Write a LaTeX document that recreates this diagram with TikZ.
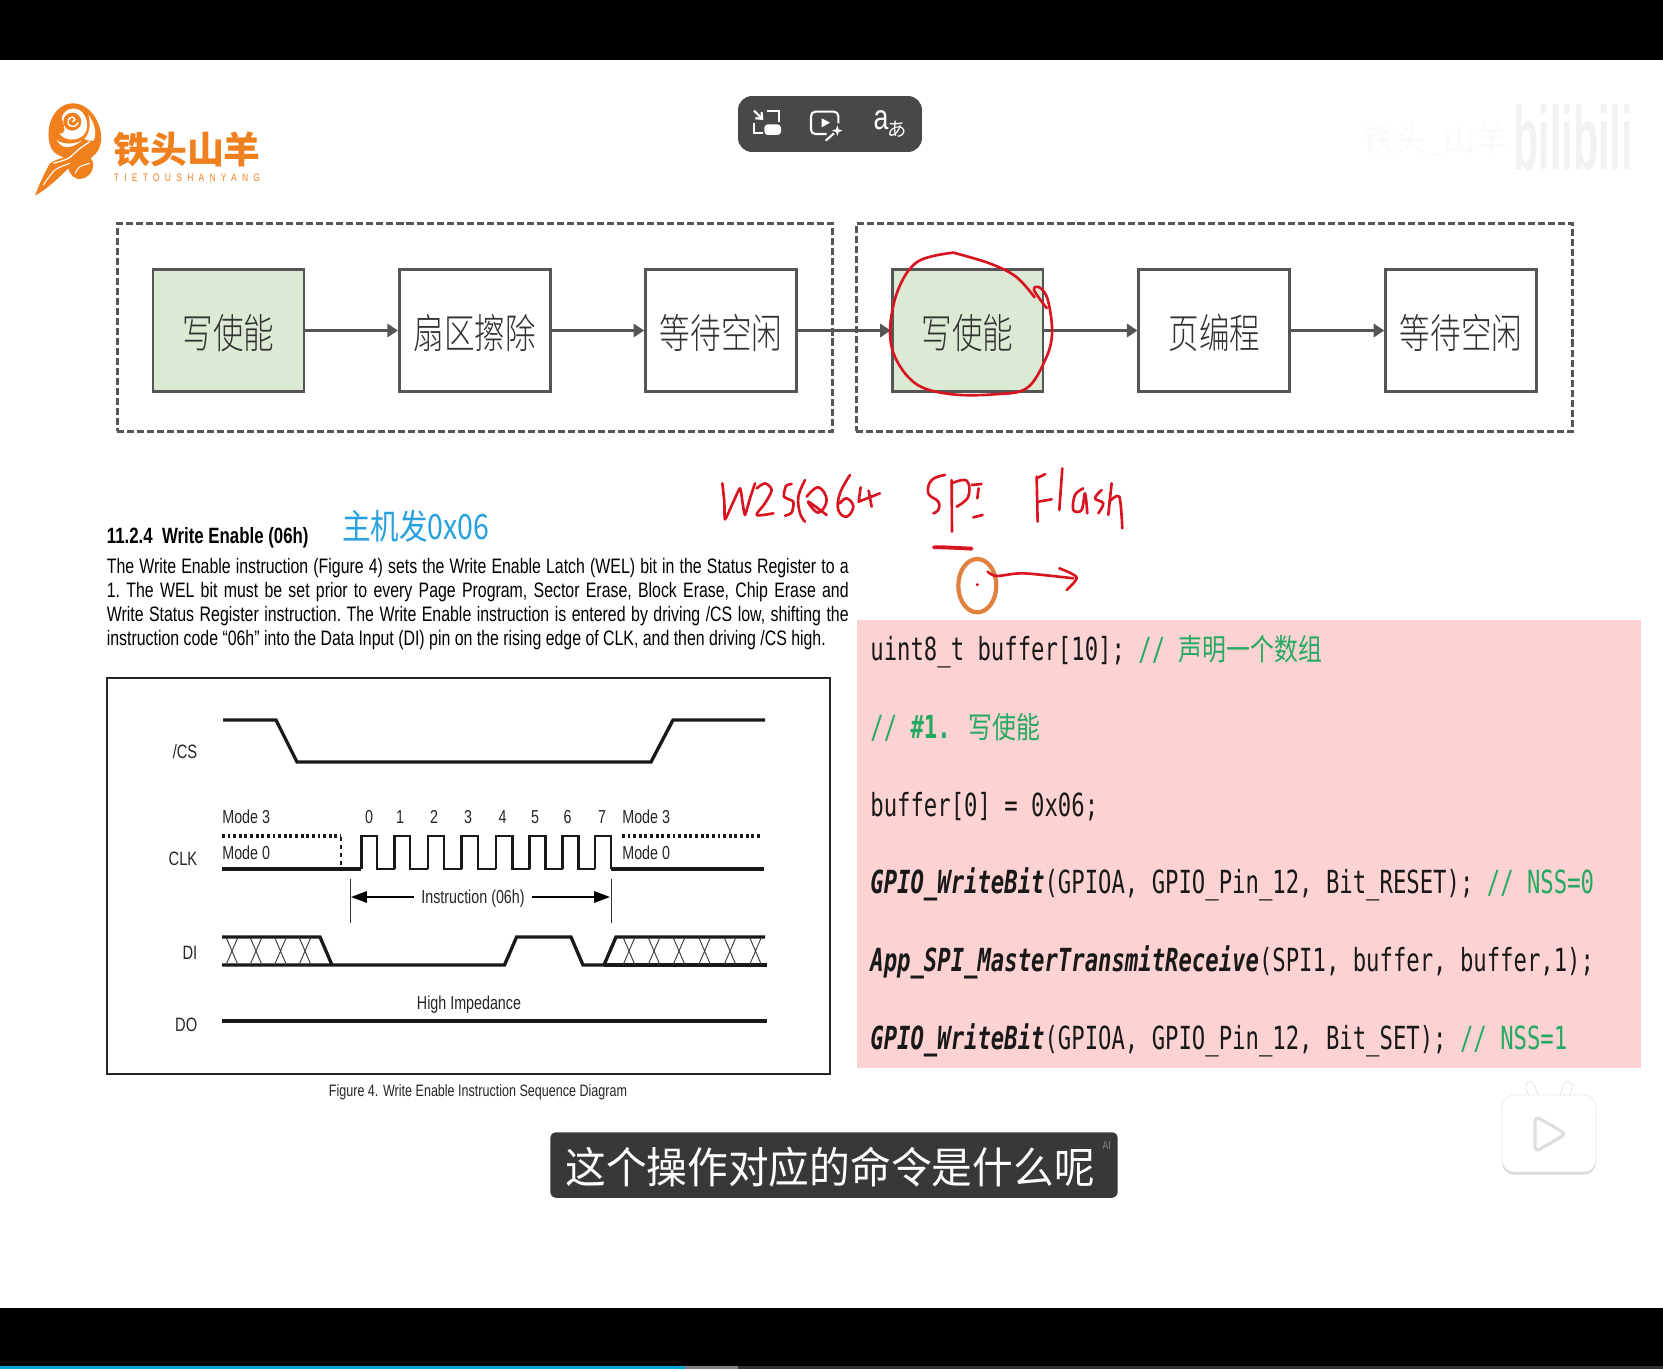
\documentclass[tikz,border=0pt]{standalone}
\usepackage{fontspec}
\usepackage{tikz}
\usetikzlibrary{
  arrows.meta,
  positioning, fit, calc,
  shadows
}
\newfontfamily\cjkbox[FakeStretch=0.75]{Noto Sans CJK SC Light}
\newfontfamily\cjkblue[FakeStretch=0.82]{Noto Sans CJK SC}
\newfontfamily\cjkcode[FakeStretch=0.8]{Noto Sans CJK SC}
\newfontfamily\cjksub[FakeStretch=0.95]{Noto Sans CJK SC}
\newfontfamily\cjklogo{Noto Sans CJK SC}
\newfontfamily\docfont[FakeStretch=0.76]{Liberation Sans}
\newfontfamily\logolatin[FakeStretch=0.78,LetterSpace=48]{Liberation Sans}
\newfontfamily\bilifont[FakeStretch=0.46]{Liberation Sans}
\newfontfamily\codefont[FakeStretch=0.70]{DejaVu Sans Mono}
\definecolor{framegray}{RGB}{85,85,85}
\definecolor{boxgreen}{RGB}{220,233,213}
\definecolor{boxtext}{RGB}{50,50,50}
\definecolor{inkred}{RGB}{216,20,32}
\definecolor{inkorange}{RGB}{226,128,64}
\definecolor{logoorange}{RGB}{240,128,30}
\definecolor{notecyan}{RGB}{38,160,222}
\definecolor{codepink}{RGB}{253,210,210}
\definecolor{codegreen}{RGB}{36,170,96}
\definecolor{codeink}{RGB}{25,25,25}
\definecolor{toolgray}{RGB}{72,72,72}
\definecolor{subgray}{RGB}{55,56,58}
\definecolor{progblue}{RGB}{0,161,214}
\tikzset{
  stepbox/.style={rectangle,draw=framegray,line width=1.6pt,minimum width=3.02cm,minimum height=2.44cm,inner sep=0pt,
    text height=0.82cm,text depth=0.1cm,font=\cjkbox\fontsize{23.2}{26}\selectfont,text=boxtext},
  greenbox/.style={stepbox,fill=boxgreen},
  plainbox/.style={stepbox,fill=white},
  groupbox/.style={rectangle,draw=framegray,line width=1.6pt,dash pattern=on 4pt off 1.7pt,inner xsep=0.69cm,inner ysep=0.83cm,yshift=0.06cm},
  arr/.style={->,>={Triangle[length=6pt,width=7.5pt]},line width=1.7pt,color=framegray},
  docline/.style={inner sep=0pt,anchor=base west,text=black},
  tlabel/.style={inner sep=0pt,font=\docfont\fontsize{10.7}{12}\selectfont,text=black!85},
  namelabel/.style={tlabel,anchor=east,font=\docfont\fontsize{11}{13}\selectfont},
  sigline/.style={line width=1.9pt,color=black!90,line join=miter},
  clkline/.style={line width=1.6pt,color=black!90,line join=miter},
  dotline/.style={line width=2pt,dash pattern=on 1.6pt off 1.6pt,color=black!90},
  dimline/.style={line width=0.5pt,color=black!80},
  dimarr/.style={->,>={Triangle[length=9pt,width=6.5pt]},line width=0.8pt,color=black},
  codeline/.style={inner sep=0pt,anchor=base west,text=codeink,font=\codefont\fontsize{18.1}{22}\selectfont},
  handink/.style={color=inkred,line width=1.5pt,line cap=round,line join=round}
}
\newcommand{\fn}[1]{\textbf{\textit{#1}}}
\newcommand{\cmt}[1]{\textcolor{codegreen}{#1}}

\begin{document}
\begin{tikzpicture}[x=0.02cm,y=-0.02cm]
  \useasboundingbox (0,0) rectangle (1663,1369);
  \fill[white] (0,0) rectangle (1663,1369);
  \fill[black] (0,0) rectangle (1663,60);
  \fill[black] (0,1308) rectangle (1663,1369);
  \fill[black!80] (0,1366) rectangle (1663,1369);
  \fill[black!50] (0,1366) rectangle (738,1369);
  \fill[progblue] (0,1366) rectangle (685,1369);

  \begin{scope}[shift={(25,95)},scale=0.3333]
    \fill[logoorange] (75,150) .. controls (58,90) and (90,25) .. (145,25) .. controls (200,25) and (240,100) .. (226,150)
      .. controls (220,175) and (205,180) .. (197,190) .. controls (212,205) and (205,240) .. (175,250)
      .. controls (150,258) and (135,240) .. (130,220) .. controls (110,240) and (70,280) .. (30,302)
      .. controls (42,270) and (55,240) .. (75,205) .. controls (90,195) and (105,190) .. (118,188)
      .. controls (95,180) and (80,170) .. (75,150) -- cycle;
    \fill[white] (110,70) .. controls (115,42) and (150,30) .. (172,52) .. controls (195,80) and (190,115) .. (165,128)
      .. controls (145,138) and (115,135) .. (103,115) .. controls (118,120) and (125,105) .. (110,70) -- cycle;
    \fill[logoorange] (142,80) circle [radius=27];
    \draw[white,line width=0.8pt] plot[smooth] coordinates {(142,80) (150,74) (142,66) (130,74) (132,90) (148,94) (160,82)};
    \fill[white] (190,58) .. controls (208,85) and (218,115) .. (205,137) .. controls (195,140) and (185,135) .. (178,132) .. controls (195,115) and (198,85) .. (190,58) -- cycle;
    \fill[white] (95,135) .. controls (110,162) and (135,165) .. (172,136) .. controls (150,148) and (115,150) .. (95,135) -- cycle;
    \draw[white,line width=0.7pt] plot[smooth] coordinates {(85,205) (130,190) (165,160) (195,140)};
    \draw[white,line width=0.6pt] plot[smooth] coordinates {(55,270) (90,225) (135,205)};
    \draw[white,line width=0.6pt] plot[smooth] coordinates {(150,235) (165,215) (195,205)};
  \end{scope}
  \node[inner sep=0pt,font=\cjklogo\bfseries\fontsize{21}{24}\selectfont,text=logoorange] (logotext) at (187,150) {铁头山羊};
  \node[inner sep=0pt,font=\logolatin\fontsize{6.2}{8}\selectfont,text=logoorange,below=3pt of logotext] (logosub) {TIETOUSHANYANG};

  \node[rectangle,rounded corners=8pt,fill=toolgray,minimum width=3.68cm,minimum height=1.12cm] (toolbar) at (830,124) {};
  \begin{scope}[shift={(730,90)},scale=0.3333,white,line width=1.2pt]
    \draw (110,62) -- (148,62) -- (148,95);
    \draw (72,100) -- (72,128) -- (100,128);
    \draw[->,>={Straight Barb[length=3pt,width=5pt]}] (72,62) -- (100,90);
    \fill[rounded corners=2pt] (103,103) rectangle (153,135);
    \draw[rounded corners=2.5pt] (290,132) -- (243,132) -- (243,65) -- (325,65) -- (325,100);
    \fill (275,85) -- (300,98) -- (275,112) -- cycle;
    \draw (287,152) -- (312,130);
    \fill (322,106) -- (326,118) -- (338,122) -- (326,126) -- (322,138) -- (318,126) -- (306,122) -- (318,118) -- cycle;
  \end{scope}
  \node[inner sep=0pt,text=white,font=\docfont\fontsize{20}{22}\selectfont] (langa) at (881,120) {a};
  \node[inner sep=0pt,text=white,font=\cjklogo\fontsize{11}{12}\selectfont] (langb) at (897,129) {あ};

  \node[inner sep=0pt,text=black!5,font=\bilifont\bfseries\fontsize{51}{56}\selectfont] (bililogo) at (1573,137) {bilibili};
  \node[inner sep=0pt,text=black!2,font=\cjklogo\fontsize{18}{20}\selectfont] (upname) at (1435,140) {铁头\_山羊};

  \node[greenbox] (wen1) at (228.5,330.5) {写使能};
  \node[plainbox,right=1.85cm of wen1] (erase) {扇区擦除};
  \node[plainbox,right=1.85cm of erase] (wait1) {等待空闲};
  \node[greenbox,right=1.856cm of wait1] (wen2) {写使能};
  \node[plainbox,right=1.86cm of wen2] (prog) {页编程};
  \node[plainbox,right=1.86cm of prog] (wait2) {等待空闲};
  \node[groupbox,fit=(wen1)(erase)(wait1)] (group1) {};
  \node[groupbox,fit=(wen2)(prog)(wait2)] (group2) {};

  \draw[arr] (wen1) -- (erase);
  \draw[arr] (erase) -- (wait1);
  \draw[arr] (wait1) -- (wen2);
  \draw[arr] (wen2) -- (prog);
  \draw[arr] (prog) -- (wait2);

  \begin{scope}[shift={(830,60)},xscale=0.5313,yscale=0.3333]
    \draw[handink] plot[smooth,tension=0.6] coordinates {(232,578) (165,605) (128,690) (113,810) (125,900) (165,975) (230,1003) (310,1003) (370,985) (405,900) (418,820) (410,720) (395,683) (384,690) (408,745)};
    \draw[handink] plot[smooth,tension=0.6] coordinates {(385,712) (350,650) (300,610) (232,578)};
  \end{scope}

  \node[docline,font=\docfont\bfseries\fontsize{12.6}{14}\selectfont] (sechead) at (106.5,543.5) {11.2.4\ \ Write Enable (06h)};
  \node[inner sep=0pt,anchor=base west,text=notecyan,font=\cjkblue\fontsize{19.8}{22}\selectfont] (hostnote) at (342,539) {主机发0x06};
  \node[inner sep=0pt,anchor=north west,text width=14.84cm,align=justify,font=\docfont\fontsize{11.9}{13.8}\selectfont] (secbody) at (106.5,557.5)
    {\frenchspacing The Write Enable instruction (Figure 4) sets the Write Enable Latch (WEL) bit in the Status Register to a\linebreak
     1. The WEL bit must be set prior to every Page Program, Sector Erase, Block Erase, Chip Erase and\linebreak
     Write Status Register instruction. The Write Enable instruction is entered by driving /CS low, shifting the\linebreak
     instruction code “06h” into the Data Input (DI) pin on the rising edge of CLK, and then driving /CS high.};

  \node[rectangle,draw=black!85,line width=1pt,minimum width=14.45cm,minimum height=7.92cm] (tframe) at (468.5,876) {};
  \node[namelabel] (lblcs) at (197.6,752) {/CS};
  \node[namelabel] (lblclk) at (197.6,859) {CLK};
  \node[namelabel] (lbldi) at (197.6,953) {DI};
  \node[namelabel] (lbldo) at (197.6,1025) {DO};

  \draw[sigline] (223,720) -- (276,720) -- (297,762) -- (651,762) -- (673,720) -- (765,720);

  \node[tlabel,anchor=west] (m3a) at (222,817) {Mode 3};
  \node[tlabel,anchor=west] (m0a) at (222,853) {Mode 0};
  \node[tlabel,anchor=west] (m3b) at (622,817) {Mode 3};
  \node[tlabel,anchor=west] (m0b) at (622,853) {Mode 0};
  \foreach \n/\x in {0/369,1/400,2/434,3/468,4/502.5,5/535,6/567.5,7/602}
    \node[tlabel] (bit\n) at (\x,817) {\n};
  \draw[dotline] (222,836) -- (341,836);
  \draw[dotline] (622,836) -- (761,836);
  \draw[line width=1.3pt,dash pattern=on 2.5pt off 2pt,color=black!90] (341,837) -- (341,868);
  \draw[sigline] (222,869) -- (361.4,869);
  \foreach \r/\f/\nx in {361.4/377/394.5,394.5/410/428,428/444/461.8,461.8/478/496,496/512.7/529.7,529.7/545.6/562.6,562.6/578.6/595,595/611/611}
    \draw[clkline] (\r,869) |- (\f,836) -- (\f,869) -- (\nx,869);
  \draw[sigline] (611,869) -- (764,869);

  \draw[dimline] (350,879) -- (350,923);
  \draw[dimline] (611,879) -- (611,923);
  \coordinate (insleft) at (351,897);
  \coordinate (insright) at (610,897);
  \node[tlabel,inner sep=4pt,text depth=0pt] (instr) at (473,897) {Instruction (06h)};
  \draw[dimarr] (instr) -- (insleft);
  \draw[dimarr] (instr) -- (insright);

  \draw[sigline] (222,937) -- (320,937) -- (332,965);
  \draw[sigline] (222,965) -- (504.5,965) -- (516.6,937) -- (571,937) -- (583,965) -- (604,965);
  \draw[sigline] (604,965) -- (616,937) -- (765,937);
  \draw[sigline] (604,965) -- (767,965);
  \foreach \x in {232,256,280.5,305,629,654,679,704.6,730,755.5}
    \draw[line width=0.5pt,color=black!80] (\x-6,937) -- (\x+6,965) (\x+6,937) -- (\x-6,965);

  \node[tlabel,text depth=0pt] (hiz) at (469,1003) {High Impedance};
  \draw[sigline] (222,1021) -- (767,1021);
  \node[inner sep=0pt,text=black!85,font=\docfont\fontsize{9.4}{11}\selectfont] (figcap) at (478,1092) {Figure 4. Write Enable Instruction Sequence Diagram};

  \begin{scope}[shift={(690,460)},scale=0.3333]
    \draw[handink] plot[smooth,tension=0.3] coordinates {(97,70) (103,125) (105,178) (128,130) (150,85) (158,130) (165,165) (180,115) (195,70)};
    \draw[handink] plot[smooth,tension=0.5] coordinates {(200,85) (225,70) (245,90) (225,130) (200,165) (250,160)};
    \draw[handink] plot[smooth,tension=0.4] coordinates {(305,72) (288,78) (282,110) (310,125) (305,158) (285,167)};
    \draw[handink] plot[smooth,tension=0.6] coordinates {(345,60) (325,110) (330,160) (345,185)};
    \draw[handink] plot[smooth,tension=0.7] coordinates {(350,110) (385,82) (410,120) (385,158) (355,125) (410,165)};
    \draw[handink] plot[smooth,tension=0.7] coordinates {(480,45) (450,100) (445,150) (470,170) (490,140) (470,115) (450,130)};
    \draw[handink] (512,82) -- (506,125) -- (570,100);
    \draw[handink] (536,92) -- (545,140);
    \draw[handink] plot[smooth,tension=0.7] coordinates {(765,45) (725,60) (715,100) (745,125) (745,150) (730,160)};
    \draw[handink] (785,60) -- (786,215);
    \draw[handink] plot[smooth,tension=0.7] coordinates {(785,70) (830,62) (835,110) (800,140)};
    \draw[handink] (845,75) -- (875,72);
    \draw[handink] (866,85) -- (862,115);
    \draw[handink] (850,172) -- (878,165);
    \draw[handink] (1040,50) -- (1043,185);
    \draw[handink] (1040,55) -- (1066,42);
    \draw[handink] (1045,125) -- (1085,118);
    \draw[handink] (1117,25) -- (1108,150);
    \draw[handink] plot[smooth,tension=0.6] coordinates {(1180,85) (1155,105) (1150,150) (1175,150) (1185,100) (1192,160)};
    \draw[handink] plot[smooth,tension=0.6] coordinates {(1235,90) (1215,115) (1240,130) (1225,160)};
    \draw[handink] (1265,70) -- (1255,165);
    \draw[handink] plot[smooth,tension=0.5] coordinates {(1258,125) (1288,110) (1297,205)};
    \draw[handink,line width=2.2pt] plot[smooth,tension=0.5] coordinates {(732,262) (760,262) (845,266)};
    \draw[color=inkorange,line width=2.4pt] (862,377) ellipse [x radius=57,y radius=80];
    \fill[inkred] (862,374) circle [radius=5];
    \draw[handink] plot[smooth,tension=0.5] coordinates {(893,335) (920,348) (1000,340) (1150,355)};
    \draw[handink] plot[smooth,tension=0.5] coordinates {(1108,325) (1160,352) (1130,390)};
  \end{scope}

  \node[rectangle,fill=codepink,minimum width=15.69cm,minimum height=8.96cm,inner sep=0pt] (codebg) at (1249.3,844) {};
  \node[codeline] (code1) at (870,660) {uint8\_t buffer[10]; \cmt{// {\cjkcode\fontsize{17}{20}\selectfont 声明一个数组}}};
  \node[codeline] (code2) at (870,738) {\cmt{// \textbf{\#1.} {\cjkcode\fontsize{17}{20}\selectfont 写使能}}};
  \node[codeline] (code3) at (870,816) {buffer[0] = 0x06;};
  \node[codeline] (code4) at (870,893) {\fn{GPIO\_WriteBit}(GPIOA, GPIO\_Pin\_12, Bit\_RESET); \cmt{// NSS=0}};
  \node[codeline] (code5) at (870,971) {\fn{App\_SPI\_MasterTransmitReceive}(SPI1, buffer, buffer,1);};
  \node[codeline] (code6) at (870,1049) {\fn{GPIO\_WriteBit}(GPIOA, GPIO\_Pin\_12, Bit\_SET); \cmt{// NSS=1}};

  \node[rectangle,rounded corners=3pt,fill=subgray,minimum width=11.35cm,minimum height=1.31cm,inner sep=0pt] (subbar) at (834,1165) {};
  \node[inner sep=0pt,text=white,font=\cjksub\fontsize{24.4}{28}\selectfont] (subtext) at (830,1167) {这个操作对应的命令是什么呢};
  \node[inner sep=0pt,text=black!45,font=\docfont\fontsize{6.5}{8}\selectfont] (subai) at (1106.6,1146) {AI};

  \draw[black!14,line width=5.4pt,line cap=round] (1530,1086) -- (1536,1102);
  \draw[black!14,line width=5.4pt,line cap=round] (1568,1086) -- (1562,1102);
  \draw[white,line width=4.6pt,line cap=round] (1530,1086) -- (1536,1102);
  \draw[white,line width=4.6pt,line cap=round] (1568,1086) -- (1562,1102);
  \node[rectangle,rounded corners=7pt,draw=black!8,fill=white,minimum width=1.88cm,minimum height=1.54cm,inner sep=0pt,
        drop shadow={shadow xshift=0pt,shadow yshift=-1.5pt,opacity=0.3}] (tvbody) at (1549,1133.5) {};
  \draw[black!13,fill=white,line width=1.8pt,rounded corners=3pt] (1535,1116) -- (1566,1134) -- (1535,1152) -- cycle;
\end{tikzpicture}
\end{document}
